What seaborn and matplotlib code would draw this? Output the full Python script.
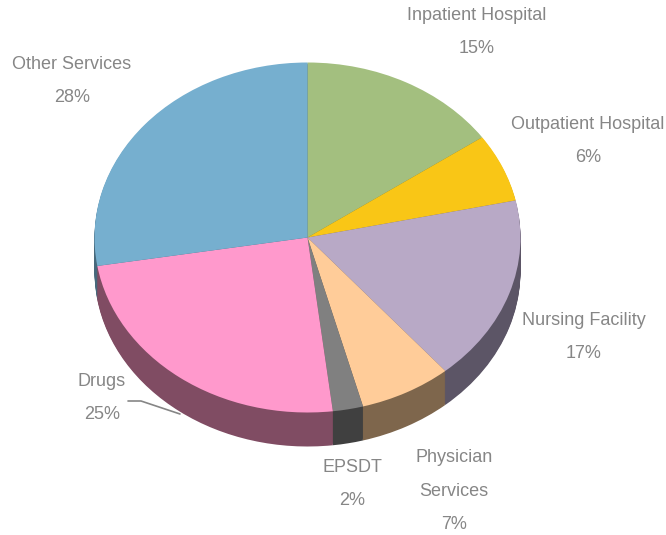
import matplotlib
matplotlib.use("Agg")
import matplotlib.pyplot as plt
import seaborn as sns

# Clockwise from 12 o'clock. Printed labels are rounded, wedge sizes are read
# off the picture and differ slightly
services = ["Inpatient Hospital", "Outpatient Hospital", "Nursing Facility",
            "Physician\nServices", "EPSDT", "Drugs", "Other Services"]
labels_pct = [15, 6, 17, 7, 2, 25, 28]
wedge_sizes = [15.3, 6.3, 17.2, 7.0, 2.3, 24.3, 27.6]
top_colors = ["#A3BF7F", "#F9C616", "#B8A9C6", "#FFCC99", "#808080", "#FF99CC", "#76AFCF"]
side_colors = ["#62734C", "#96770D", "#5C5566", "#7E664C", "#404040", "#804C63", "#47697C"]

W, H = 666, 535
CX, CY = 307.5, 237.5
RX, RY = 213, 175
DEPTH = 34

sns.set_theme(style="white")
plt.rcParams["font.family"] = ["Liberation Sans", "DejaVu Sans"]

fig = plt.figure(figsize=(W / 100, H / 100), dpi=100)
ax = fig.add_axes([0, 0, 1, 1])


def draw_pie(colors, offset):
    ax.pie(wedge_sizes, colors=sns.color_palette(colors), startangle=90, counterclock=False,
           center=(0, -offset / RY), radius=1, frame=True,
           wedgeprops={"linewidth": 0.6, "edgecolor": "none"})


# extrude the side by stacking darker pies, then the top face
for d in range(DEPTH, 0, -1):
    draw_pie(side_colors, d)
draw_pie(top_colors, 0)

ax.set_aspect("auto")
ax.set_xlim(-CX / RX, (W - CX) / RX)
ax.set_ylim(-(H - CY) / RY, CY / RY)
ax.axis("off")

# label centres in pixels
label_x = [477, 588, 584, 454, 352, 102, 72]
label_y = [32, 141, 337, 491, 484, 398, 81]
for name, pct, x, y in zip(services, labels_pct, label_x, label_y):
    fig.text(x / W, 1 - y / H, f"{name}\n{pct}%", ha="center", va="center",
             fontsize=13, color="#868686", linespacing=2.28)

# Drugs leader line
leader_x = [128, 141, 180]
leader_y = [401, 401, 414]
fig.add_artist(plt.Line2D([x / W for x in leader_x], [1 - y / H for y in leader_y],
                          color="#868686", lw=1.2))

fig.savefig("out.png", dpi=100)
